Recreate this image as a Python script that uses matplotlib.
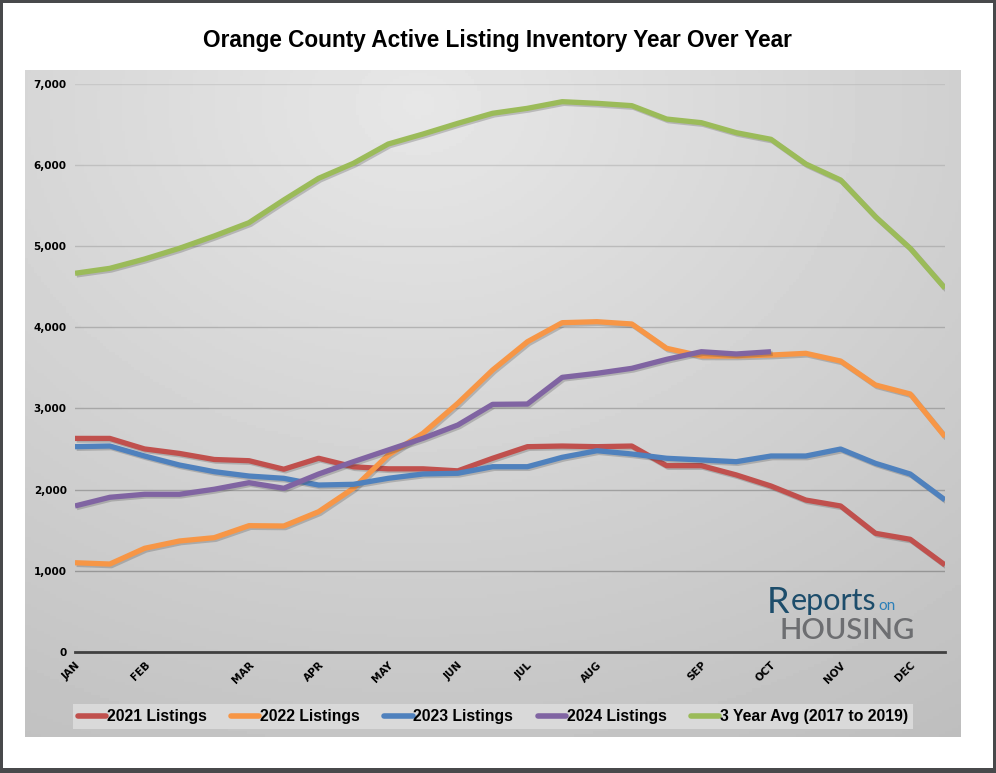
import numpy as np
import matplotlib.pyplot as plt
import matplotlib.patheffects as pe
from matplotlib.patches import Rectangle

# --- data (biweekly points) ---
months = ['JAN', 'FEB', 'MAR', 'APR', 'MAY', 'JUN', 'JUL', 'AUG', 'SEP', 'OCT', 'NOV', 'DEC']
month_idx = [0, 2, 5, 7, 9, 11, 13, 15, 18, 20, 22, 24]

listings_2021 = [2630, 2630, 2500, 2445, 2370, 2355, 2250, 2385, 2280, 2255, 2255, 2230, 2385,
                 2528, 2536, 2528, 2536, 2294, 2294, 2180, 2043, 1870, 1797, 1460, 1386, 1069]
listings_2022 = [1097, 1081, 1275, 1365, 1406, 1554, 1550, 1726, 2015, 2425, 2693, 3063, 3473,
                 3822, 4057, 4069, 4041, 3741, 3646, 3646, 3658, 3679, 3584, 3289, 3178, 2651]
listings_2023 = [2528, 2536, 2413, 2302, 2220, 2166, 2138, 2055, 2064, 2138, 2191, 2200, 2281,
                 2281, 2397, 2478, 2438, 2385, 2364, 2343, 2413, 2413, 2499, 2323, 2191, 1871]
listings_2024 = [1797, 1904, 1941, 1941, 2003, 2084, 2015, 2191, 2343, 2487, 2631, 2795, 3050,
                 3054, 3383, 3433, 3494, 3605, 3699, 3671, 3699]
avg_3yr = [4666, 4727, 4842, 4974, 5126, 5290, 5570, 5837, 6022, 6260, 6383, 6515, 6639,
           6700, 6782, 6762, 6733, 6568, 6523, 6400, 6318, 6014, 5816, 5364, 4974, 4481]

series = [
    ('2021 Listings', listings_2021, '#C0504D'),
    ('2022 Listings', listings_2022, '#F79646'),
    ('2023 Listings', listings_2023, '#4F81BD'),
    ('2024 Listings', listings_2024, '#8064A2'),
    ('3 Year Avg (2017 to 2019)', avg_3yr, '#9BBB59'),
]

W, H = 996, 773
fig = plt.figure(figsize=(W / 100, H / 100), dpi=100)
fig.patch.set_facecolor('#48494b')
fig.patches.append(Rectangle((3 / W, 1 - 768 / H), 990 / W, 765 / H,
                             transform=fig.transFigure, facecolor='white',
                             edgecolor='none', zorder=-5))

# grey gradient panel behind the plot
px0, py0, px1, py1 = 25, 70, 960, 737
bg = fig.add_axes([px0 / W, 1 - py1 / H, (px1 - px0) / W, (py1 - py0) / H], zorder=0)
gx, gy = np.meshgrid(np.linspace(0, 1, 300), np.linspace(1, 0, 220))
r = np.sqrt(((gx - 0.42) / 0.9) ** 2 + ((gy - 0.95) / 1.0) ** 2)
shade = np.clip(0.905 - 0.14 * r, 0.72, 1)
bg.imshow(shade, cmap='gray', vmin=0, vmax=1, aspect='auto', extent=[0, 1, 0, 1])
bg.axis('off')

ax = fig.add_axes([75 / W, 1 - 651.7 / H, 870 / W, (651.7 - 84) / H], zorder=1)
ax.set_facecolor('none')

x = np.arange(len(avg_3yr))
shadow = [pe.SimpleLineShadow(offset=(1.2, -1.2), shadow_color='#404040', alpha=0.25),
          pe.Normal()]
for label, vals, color in series:
    ax.plot(x[:len(vals)], vals, color=color, lw=3.8, label=label,
            solid_joinstyle='round', solid_capstyle='butt', path_effects=shadow, zorder=3)

ax.set_xlim(0, 25)
ax.set_ylim(0, 7000)
yt = np.arange(0, 7001, 1000)
ax.set_yticks(yt)
ax.set_yticklabels([f'{v:,}' for v in yt], fontsize=7.5, fontweight='bold')
for v in yt[1:]:
    # gridlines fade toward the lighter top of the panel
    a = 0.75 - 0.08 * (v / 1000)
    ax.axhline(v, color='#7f7f7f', lw=1, alpha=a, zorder=1)
ax.axhline(0, color='#404040', lw=2, zorder=2, clip_on=False)

ax.set_xticks(month_idx)
ax.set_xticklabels(months, rotation=45, ha='right', va='top', rotation_mode='anchor',
                   fontsize=7.5, fontweight='bold')
ax.tick_params(length=0, pad=6)
for s in ax.spines.values():
    s.set_visible(False)

fig.text(0.4995, 1 - 41 / H, 'Orange County Active Listing Inventory Year Over Year',
         ha='center', va='center', fontsize=16.3, fontweight='bold', family='Liberation Sans')

leg = fig.legend(loc='center', bbox_to_anchor=(493 / W, 1 - 716.5 / H), ncol=5,
                 frameon=True, fancybox=False, handlelength=1.8,
                 handletextpad=0.05, columnspacing=1.55, borderpad=0.35, borderaxespad=0,
                 prop={'weight': 'bold', 'size': 11.3, 'family': 'Liberation Sans'})
leg.get_frame().set_facecolor('#d9d9d9')
leg.get_frame().set_edgecolor('none')
leg.get_frame().set_alpha(1)
for h in leg.legend_handles:
    h.set_linewidth(4)
    h.set_solid_capstyle('round')
    h.set_path_effects([])

# Reports on Housing logo
renderer = fig.canvas.get_renderer()
t_r = fig.text(767 / W, 1 - 613 / H, 'R', fontsize=26, color='#1d4d6b', family='Lato',
               ha='left', va='baseline', zorder=5)
x_next = t_r.get_window_extent(renderer).x1 + 1
t_e = fig.text(x_next / W, 1 - 610 / H, 'eports', fontsize=22, color='#1d4d6b',
               family='Lato', ha='left', va='baseline', zorder=5)
x_next = t_e.get_window_extent(renderer).x1 + 2
fig.text(x_next / W, 1 - 610 / H, 'on', fontsize=11, color='#2c7fb8', family='Lato',
         ha='left', va='baseline', zorder=5)
fig.text(779 / W, 1 - 639 / H, 'HOUSING', fontsize=21, color='#6d6e71', family='Lato',
         fontweight='semibold', ha='left', va='baseline', zorder=5)

fig.savefig('out.png', dpi=100)
